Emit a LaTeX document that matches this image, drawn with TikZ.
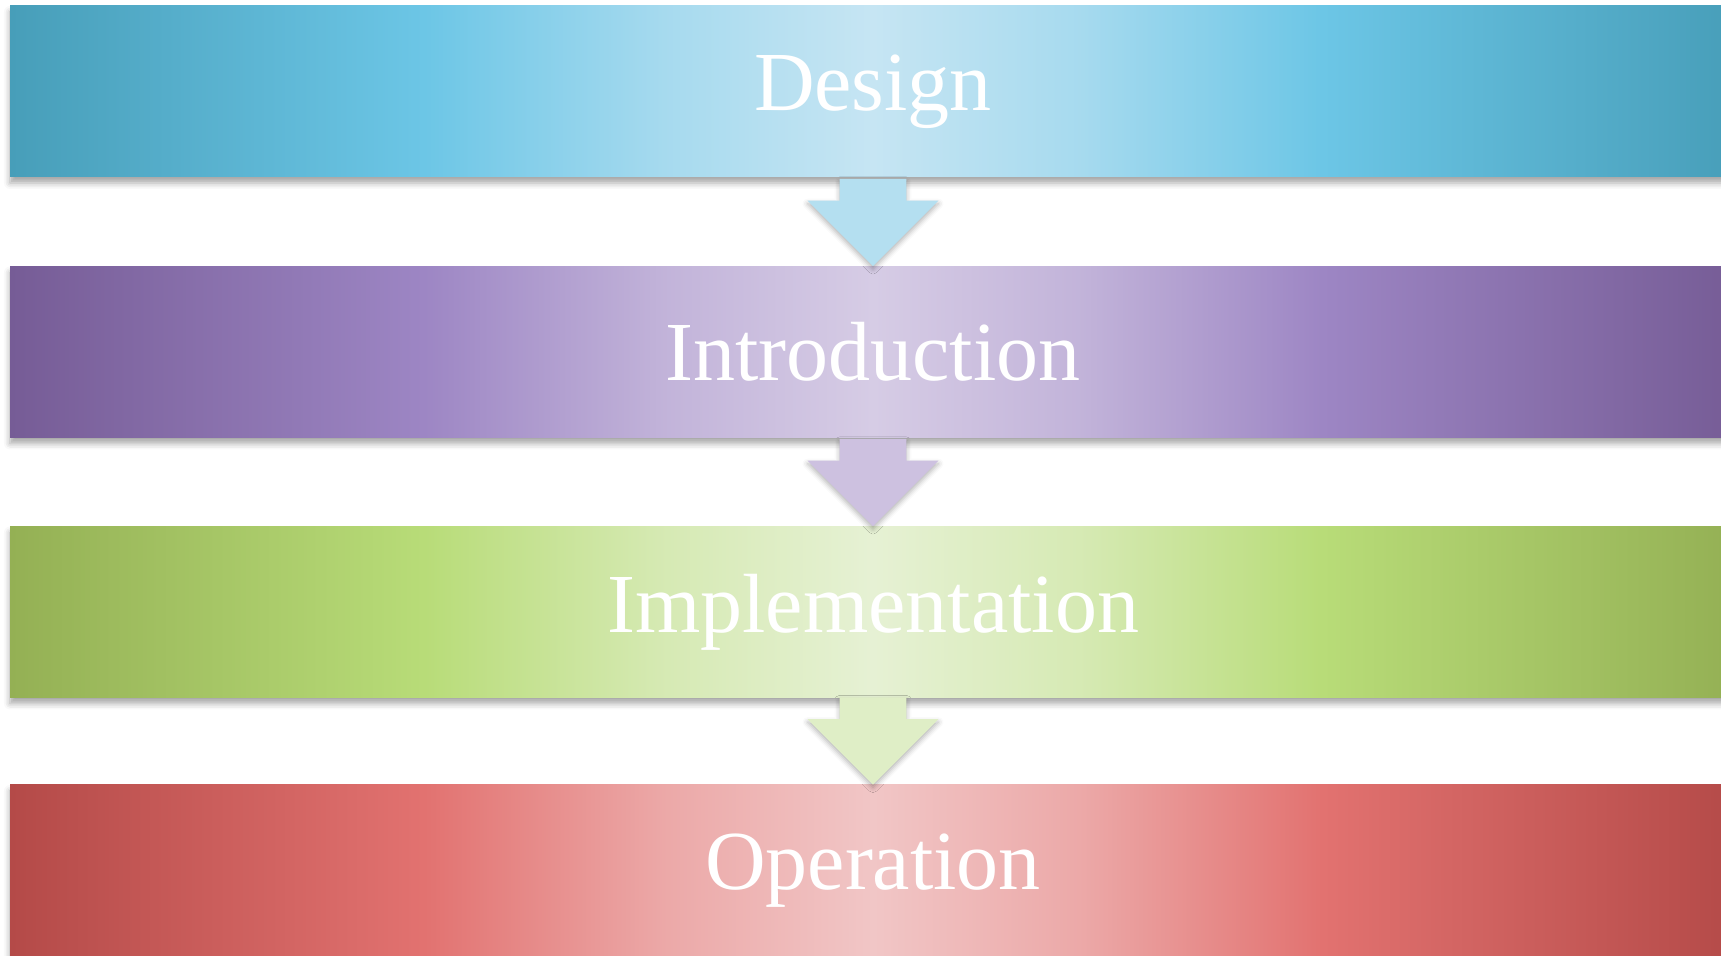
\documentclass[tikz,border=0pt]{standalone}
\usepackage{fontspec}
\setmainfont{Liberation Serif}
\usepackage{tikz}
\usetikzlibrary{shapes.arrows}
\usetikzlibrary{shadows.blur}

\definecolor{designedge}{RGB}{71,158,185}
\definecolor{designmid}{RGB}{108,198,230}
\definecolor{designlight}{RGB}{198,229,243}
\definecolor{introedge}{RGB}{118,92,150}
\definecolor{intromid}{RGB}{157,134,196}
\definecolor{introlight}{RGB}{214,204,229}
\definecolor{impledge}{RGB}{148,176,84}
\definecolor{implmid}{RGB}{184,220,120}
\definecolor{impllight}{RGB}{230,241,212}
\definecolor{operedge}{RGB}{180,74,72}
\definecolor{opermid}{RGB}{226,114,112}
\definecolor{operlight}{RGB}{241,198,198}

% one shading per phase: dark at the ends, light in the middle
\pgfdeclarehorizontalshading{designshade}{100bp}{color(0bp)=(designedge); color(25bp)=(designedge);
  color(37bp)=(designmid); color(44bp)=(designlight!65!designmid); color(50bp)=(designlight);
  color(56bp)=(designlight!65!designmid); color(63bp)=(designmid);
  color(75bp)=(designedge); color(100bp)=(designedge)}
\pgfdeclarehorizontalshading{introshade}{100bp}{color(0bp)=(introedge); color(25bp)=(introedge);
  color(37bp)=(intromid); color(44bp)=(introlight!65!intromid); color(50bp)=(introlight);
  color(56bp)=(introlight!65!intromid); color(63bp)=(intromid);
  color(75bp)=(introedge); color(100bp)=(introedge)}
\pgfdeclarehorizontalshading{implshade}{100bp}{color(0bp)=(impledge); color(25bp)=(impledge);
  color(37bp)=(implmid); color(44bp)=(impllight!65!implmid); color(50bp)=(impllight);
  color(56bp)=(impllight!65!implmid); color(63bp)=(implmid);
  color(75bp)=(impledge); color(100bp)=(impledge)}
\pgfdeclarehorizontalshading{opershade}{100bp}{color(0bp)=(operedge); color(25bp)=(operedge);
  color(37bp)=(opermid); color(44bp)=(operlight!65!opermid); color(50bp)=(operlight);
  color(56bp)=(operlight!65!opermid); color(63bp)=(opermid);
  color(75bp)=(operedge); color(100bp)=(operedge)}

\begin{document}
\begin{tikzpicture}[x=1pt, y=1pt,
phase/.style = {rectangle, minimum width = 863pt, minimum height = 85.5pt, inner sep = 0pt,
  text = white, font = \fontsize{42}{50}\selectfont,
  blur shadow = {shadow xshift = 0pt, shadow yshift = -3pt, shadow blur radius = 3pt, shadow opacity = 35}},
down/.style = {single arrow, shape border rotate = 270, anchor = tip, outer sep = 0pt,
  minimum width = 65pt, minimum height = 43.6pt, single arrow head extend = 16pt,
  inner xsep = 16.5pt, inner ysep = 0pt,
  blur shadow = {shadow xshift = 0pt, shadow yshift = -1.5pt, shadow blur radius = 2.5pt, shadow opacity = 30}}]

\useasboundingbox (0, 0) rectangle (860.5, 478);

\node[phase, shading = designshade] (design) at (436.5, 432.25) {Design};
\node[phase, shading = introshade] (intro) at (436.5, 302) {Introduction};
\node[phase, shading = implshade] (impl) at (436.5, 172) {Implementation};
\node[phase, shading = opershade] (oper) at (436.5, 42.75) {Operation};

\node[down, fill = designlight!80!designmid] (to intro) at (intro.north) {};
\node[down, fill = introlight!85!intromid] (to impl) at (impl.north) {};
\node[down, fill = impllight!85!implmid] (to oper) at (oper.north) {};

\end{tikzpicture}
\end{document}
